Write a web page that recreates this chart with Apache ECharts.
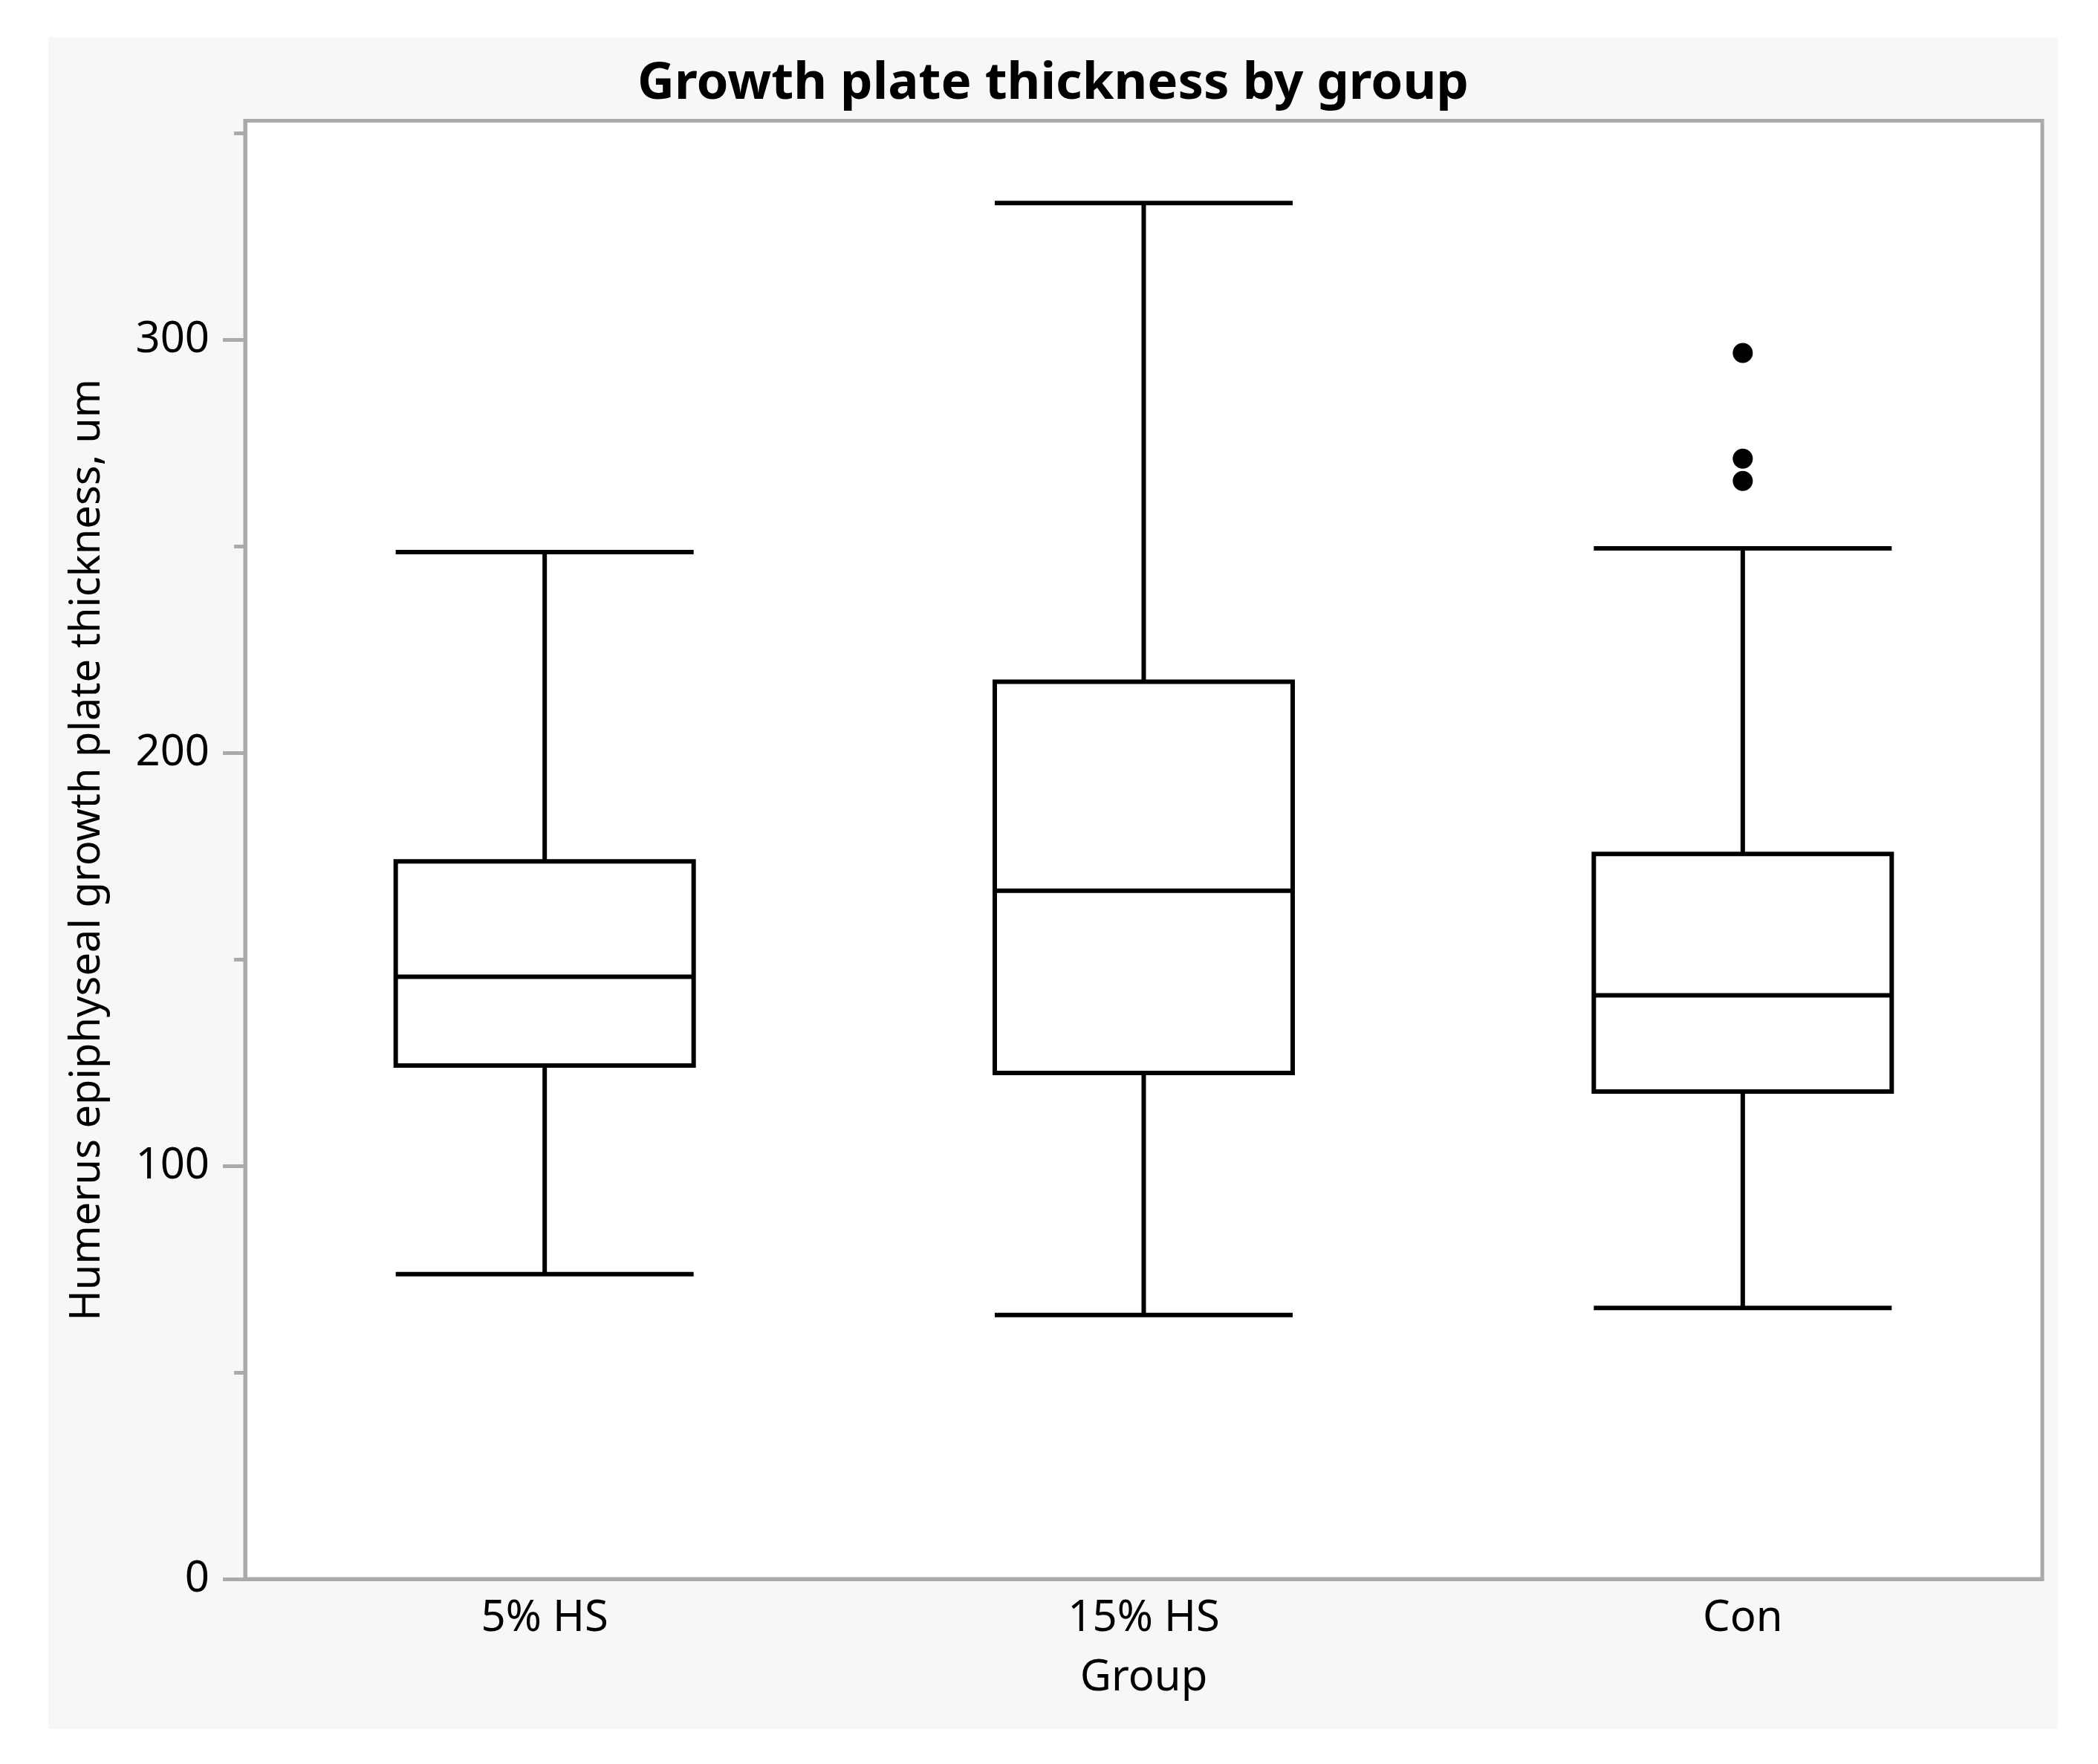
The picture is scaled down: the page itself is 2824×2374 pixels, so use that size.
<!DOCTYPE html>
<html>
<head>
<meta charset="utf-8">
<title>Growth plate thickness by group</title>
<script src="https://cdn.jsdelivr.net/npm/echarts@6/dist/echarts.min.js"></script>
<style>
  html, body { margin: 0; padding: 0; background: #ffffff; }
  #chart { position: absolute; left: 65px; top: 50px; width: 2705px; height: 2277px; }
</style>
</head>
<body>
<div id="chart"></div>
<script>
// box summaries, one entry per group
const groups = ['5% HS', '15% HS', 'Con'];
const lowWhisker = [73.8, 63.9, 65.6];
const q1 = [124.3, 122.5, 118.0];
const median = [145.8, 166.6, 141.3];
const q3 = [173.7, 217.2, 175.5];
const highWhisker = [248.6, 333.1, 249.5];

// outlier points (Con group only)
const outlierGroup = ['Con', 'Con', 'Con'];
const outlierValues = [296.8, 271.2, 265.8];

// y axis ticks
const majorTicks = [0, 100, 200, 300];
const minorTicks = [50, 150, 250, 350];
const yMax = 353;

const font = '"Noto Sans", "Open Sans", sans-serif';
const axisGray = '#aaaaaa';

const chart = echarts.init(document.getElementById('chart'), null, { renderer: 'canvas' });

const boxData = groups.map((g, i) => [lowWhisker[i], q1[i], median[i], q3[i], highWhisker[i]]);
const outlierData = outlierGroup.map((g, i) => [g, outlierValues[i]]);

const option = {
  backgroundColor: '#f7f7f7',
  animation: false,
  title: {
    text: 'Growth plate thickness by group',
    left: 'center',
    top: 24,
    textStyle: { fontFamily: font, fontSize: 69, fontWeight: 'bold', color: '#000' }
  },
  grid: {
    left: 265, top: 112.5, right: 21, bottom: 202,
    show: true,
    backgroundColor: '#ffffff',
    borderColor: axisGray,
    borderWidth: 5
  },
  xAxis: {
    type: 'category',
    data: groups,
    boundaryGap: true,
    name: 'Group',
    nameLocation: 'middle',
    nameGap: 104,
    nameTextStyle: { fontFamily: font, fontSize: 58, color: '#000' },
    axisLine: { show: true, lineStyle: { color: axisGray, width: 5 } },
    axisTick: { show: false },
    axisLabel: { fontFamily: font, fontSize: 58, color: '#000', margin: 24 },
    splitLine: { show: false }
  },
  yAxis: [
    {
      type: 'value',
      min: 0,
      max: yMax,
      position: 'left',
      name: 'Humerus epiphyseal growth plate thickness, um',
      nameLocation: 'middle',
      nameGap: 184,
      nameTextStyle: { fontFamily: font, fontSize: 56, color: '#000' },
      axisLine: { show: true, lineStyle: { color: axisGray, width: 5 } },
      axisTick: { show: true, customValues: majorTicks, length: 30, lineStyle: { color: axisGray, width: 5 } },
      axisLabel: { customValues: majorTicks, fontFamily: font, fontSize: 58, color: '#000', margin: 48 },
      splitLine: { show: false }
    },
    {
      type: 'value',
      min: 0,
      max: yMax,
      position: 'left',
      axisLine: { show: false },
      axisTick: { show: true, customValues: minorTicks, length: 15, lineStyle: { color: axisGray, width: 5 } },
      axisLabel: { show: false },
      splitLine: { show: false }
    }
  ],
  series: [
    {
      type: 'boxplot',
      data: boxData,
      boxWidth: [401, 401],
      itemStyle: { color: '#ffffff', borderColor: '#000000', borderWidth: 6 },
      emphasis: { disabled: true },
      silent: true
    },
    {
      type: 'scatter',
      data: outlierData,
      symbol: 'circle',
      symbolSize: 27,
      itemStyle: { color: '#000000', opacity: 1 },
      emphasis: { disabled: true },
      silent: true
    }
  ]
};

chart.setOption(option);
</script>
</body>
</html>
